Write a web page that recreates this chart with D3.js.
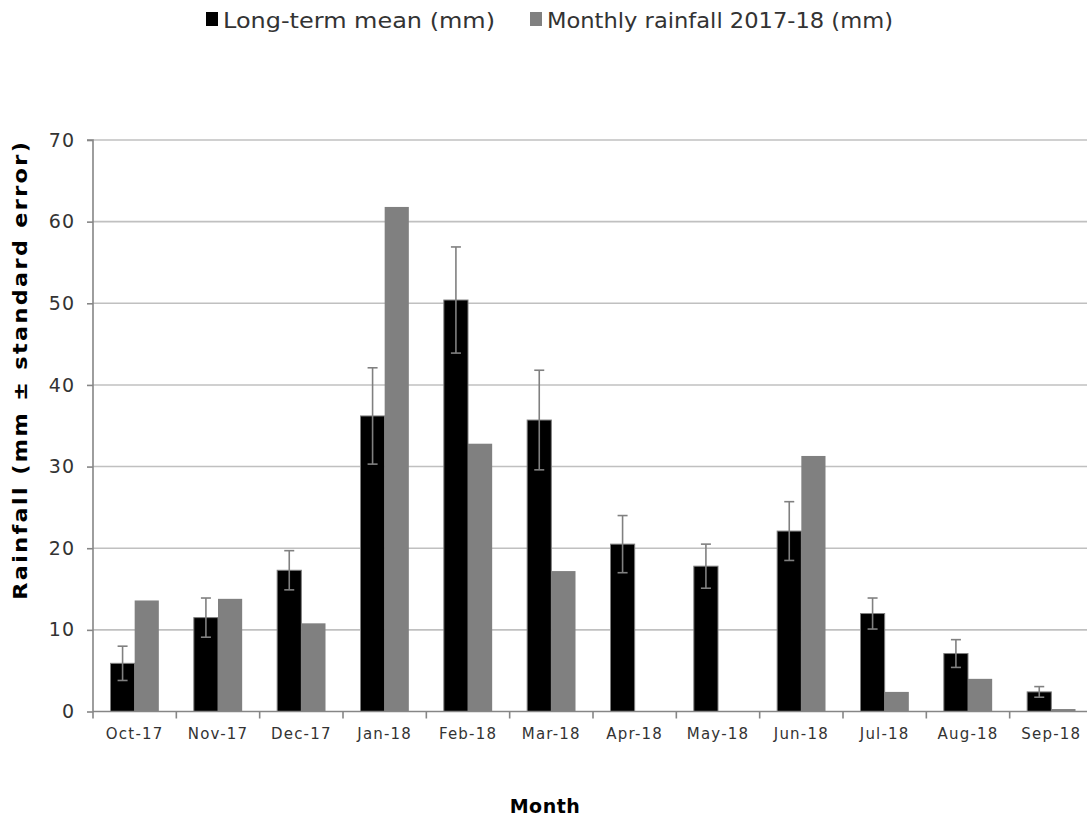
<!DOCTYPE html>
<html>
<head>
<meta charset="utf-8">
<script src="https://cdn.jsdelivr.net/npm/d3@7"></script>
<style>
  html, body { margin: 0; padding: 0; background: #fff; }
  svg { display: block; }
  text { font-family: "DejaVu Sans", "Liberation Sans", sans-serif; }
</style>
</head>
<body>
<svg id="chart" width="1087" height="818"></svg>
<script>
// Monthly rainfall, October 2017 - September 2018
const months = ["Oct-17", "Nov-17", "Dec-17", "Jan-18", "Feb-18", "Mar-18",
                "Apr-18", "May-18", "Jun-18", "Jul-18", "Aug-18", "Sep-18"];
const longTermMean = [5.9, 11.5, 17.3, 36.2, 50.4, 35.7, 20.5, 17.8, 22.1, 12.0, 7.1, 2.4];
const standardError = [2.1, 2.4, 2.4, 5.9, 6.5, 6.1, 3.5, 2.7, 3.6, 1.9, 1.7, 0.65];
const monthly2017_18 = [13.6, 13.8, 10.8, 61.8, 32.8, 17.2, 0, 0, 31.3, 2.4, 4.0, 0.3];
const yTicks = [0, 10, 20, 30, 40, 50, 60, 70];
const seriesNames = ["Long-term mean (mm)", "Monthly rainfall 2017-18 (mm)"];
const seriesColors = ["#000000", "#808080"];

const svg = d3.select("#chart");
const margin = { left: 93, right: -6, top: 140, bottom: 107 };
const W = 1087, H = 818;
const x0 = margin.left, x1 = W - margin.right;
const yBase = H - margin.bottom, yTop = margin.top;

const x = d3.scaleBand().domain(months).range([x0, x1]).paddingInner(0.42).paddingOuter(0.21);
const xInner = d3.scaleBand().domain([0, 1]).range([0, x.bandwidth()]);
const y = d3.scaleLinear().domain([0, 70]).range([yBase + 0.5, yTop]);
const xCat = d3.scaleBand().domain(months).range([x0, x1]);

// gridlines
svg.append("g")
  .selectAll("line")
  .data(yTicks.filter(t => t > 0))
  .join("line")
  .attr("x1", x0).attr("x2", x1)
  .attr("y1", d => y(d)).attr("y2", d => y(d))
  .attr("stroke", "#c0c0c0").attr("stroke-width", 1.6);

// bars
const groups = svg.append("g")
  .selectAll("g")
  .data(months.map((m, i) => ({ m, mean: longTermMean[i], se: standardError[i], obs: monthly2017_18[i] })))
  .join("g")
  .attr("transform", d => `translate(${x(d.m)},0)`);

groups.append("rect")
  .attr("x", xInner(0)).attr("width", xInner.bandwidth())
  .attr("y", d => y(d.mean)).attr("height", d => y(0) - y(d.mean))
  .attr("fill", seriesColors[0]).attr("stroke", "#7f7f7f").attr("stroke-width", 1);

groups.append("rect")
  .attr("x", xInner(1)).attr("width", xInner.bandwidth())
  .attr("y", d => y(d.obs)).attr("height", d => y(0) - y(d.obs))
  .attr("fill", seriesColors[1]);

// error bars on the long-term mean
const cx = xInner(0) + xInner.bandwidth() / 2;
const err = groups.append("g").attr("stroke", "#808080").attr("stroke-width", 1.6);
err.append("line").attr("x1", cx).attr("x2", cx)
  .attr("y1", d => y(d.mean + d.se)).attr("y2", d => y(d.mean - d.se));
err.append("line").attr("x1", cx - 5).attr("x2", cx + 5)
  .attr("y1", d => y(d.mean + d.se)).attr("y2", d => y(d.mean + d.se));
err.append("line").attr("x1", cx - 5).attr("x2", cx + 5)
  .attr("y1", d => y(d.mean - d.se)).attr("y2", d => y(d.mean - d.se));

// y axis
const yAxis = svg.append("g")
  .attr("transform", `translate(${x0},0)`)
  .call(d3.axisLeft(y).tickValues(yTicks).tickSize(6).tickPadding(12).tickFormat(d3.format("d")));
yAxis.select(".domain").attr("stroke", "#868686").attr("stroke-width", 1.6)
  .attr("d", `M-6,${y(70)}H0V${y(0)}`);
yAxis.selectAll(".tick line").attr("stroke", "#868686").attr("stroke-width", 1.6);
yAxis.selectAll(".tick text").attr("fill", "#333").style("font-size", "19px")
  .style("font-family", "'DejaVu Sans', sans-serif").style("letter-spacing", "1px");

// x axis
const xAxis = svg.append("g")
  .attr("transform", `translate(0,${y(0)})`)
  .call(d3.axisBottom(xCat).tickSize(0).tickPadding(17));
xAxis.select(".domain").attr("stroke", "#868686").attr("stroke-width", 1.6)
  .attr("d", `M${x0},0H${x1}`);
xAxis.selectAll(".tick text").attr("fill", "#333").style("font-size", "15px")
  .style("font-family", "'DejaVu Sans', sans-serif").style("letter-spacing", "1.2px");
// category boundary tick marks
svg.append("g")
  .selectAll("line")
  .data(months)
  .join("line")
  .attr("x1", d => xCat(d)).attr("x2", d => xCat(d))
  .attr("y1", y(0)).attr("y2", y(0) + 7)
  .attr("stroke", "#868686").attr("stroke-width", 1.6);

// axis titles
svg.append("text")
  .attr("transform", `translate(27,${(y(0) + y(70)) / 2 - 56}) rotate(-90)`)
  .attr("text-anchor", "middle")
  .style("font-size", "19px").style("font-weight", "bold").attr("fill", "#000")
  .style("letter-spacing", "2px")
  .attr("textLength", 460).attr("lengthAdjust", "spacingAndGlyphs")
  .text("Rainfall (mm ± standard error)");

svg.append("text")
  .attr("x", 545).attr("y", 813)
  .attr("text-anchor", "middle")
  .style("font-size", "19px").style("font-weight", "bold").attr("fill", "#000")
  .style("letter-spacing", "0.5px")
  .text("Month");

// legend
const legendX = [206, 530];
const legendW = [272, 346];
const legend = svg.append("g")
  .selectAll("g")
  .data(seriesNames)
  .join("g")
  .attr("transform", (d, i) => `translate(${legendX[i]},0)`);
legend.append("rect").attr("x", 0).attr("y", 12).attr("width", 12).attr("height", 14)
  .attr("fill", (d, i) => seriesColors[i]);
legend.append("text").attr("x", 17).attr("y", 28)
  .style("font-size", "21px").attr("fill", "#333")
  .attr("textLength", (d, i) => legendW[i]).attr("lengthAdjust", "spacingAndGlyphs")
  .text(d => d);
</script>
</body>
</html>
